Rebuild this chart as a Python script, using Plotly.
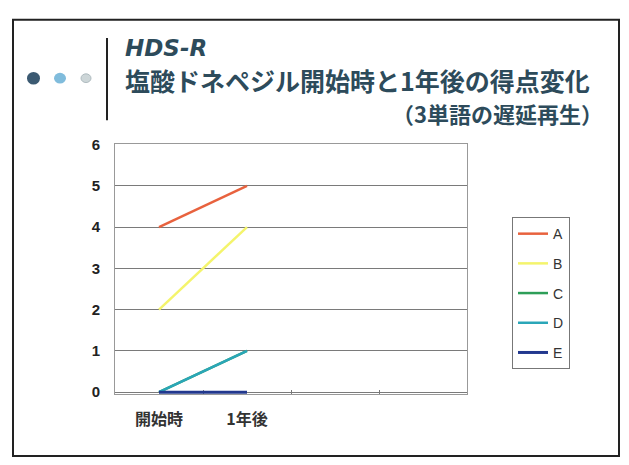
import plotly.graph_objects as go

W, H = 629, 465

categories = ["開始時", "1年後"]
cat_pos = [0, 1]
series_names = ["A", "B", "C", "D", "E"]
series_values = {
    "A": [4, 5],
    "B": [2, 4],
    "C": [0, 1],
    "D": [0, 1],
    "E": [0, 0],
}
series_colors = {
    "A": "#e8623e",
    "B": "#f4f46c",
    "C": "#2e9e58",
    "D": "#2aa6b8",
    "E": "#22388e",
}
series_widths = {"A": 2.5, "B": 2.5, "C": 2.5, "D": 2.5, "E": 3}
y_ticks = [0, 1, 2, 3, 4, 5, 6]

def px(x):
    return x / W

def py(y):
    return 1 - y / H

fig = go.Figure()
for i, name in enumerate(series_names):
    fig.add_trace(go.Scatter(
        x=cat_pos, y=series_values[name], mode="lines", name=name,
        line=dict(color=series_colors[name], width=series_widths[name]),
        legendgroup=name, cliponaxis=False,
    ))

title_color = "#2d4b5b"
jp = "Noto Sans CJK JP"

fig.update_layout(
    width=W, height=H,
    margin=dict(l=0, r=0, t=0, b=0),
    paper_bgcolor="white", plot_bgcolor="white",
    showlegend=True,
    legend=dict(
        x=px(512), y=py(215), xanchor="left", yanchor="top",
        bordercolor="#777", borderwidth=1, bgcolor="white",
        font=dict(family="Liberation Sans", size=14, color="#333"),
        traceorder="grouped", tracegroupgap=8.5, itemwidth=30,
    ),
    xaxis=dict(
        domain=[px(115), px(467)], range=[-0.5, 3.5],
        tickvals=cat_pos, ticktext=categories, ticks="",
        tickfont=dict(family=jp, size=16, color="#333", weight="bold"),
        showgrid=False, zeroline=False, layer="below traces",
        showline=True, linecolor="#999", linewidth=1, mirror=True,
        minor=dict(tickvals=[0.5, 1.5, 2.5], ticks="inside", ticklen=4,
                   tickcolor="#777", showgrid=False),
        ticklabelstandoff=11,
    ),
    yaxis=dict(
        domain=[py(398.1), py(140)], range=[-0.05, 6],
        tickvals=y_ticks, ticks="",
        tickfont=dict(family="Liberation Sans", size=15, color="#222", weight="bold"),
        showgrid=True, gridcolor="#7a7a7a", gridwidth=1, zeroline=False,
        layer="below traces",
        showline=True, linecolor="#999", linewidth=1, mirror=True,
        ticklabelstandoff=11,
    ),
)

shapes = [
    # slide frame
    dict(type="rect", xref="paper", yref="paper",
         x0=px(13), x1=px(619), y0=py(462), y1=py(11),
         line=dict(color="#222", width=2)),
    # vertical title bar
    dict(type="line", xref="paper", yref="paper",
         x0=px(107), x1=px(107), y0=py(30), y1=py(115),
         line=dict(color="#222", width=2)),
    # dots
    dict(type="circle", xref="paper", yref="paper",
         x0=px(27), x1=px(40), y0=py(78), y1=py(65),
         fillcolor="#3b5a72", line=dict(width=0)),
    dict(type="circle", xref="paper", yref="paper",
         x0=px(54), x1=px(66), y0=py(77), y1=py(66),
         fillcolor="#80bcdc", line=dict(width=0)),
    dict(type="circle", xref="paper", yref="paper",
         x0=px(81), x1=px(91), y0=py(76), y1=py(67),
         fillcolor="#cdd6d8", line=dict(color="#b0bcc0", width=1)),
]
fig.update_layout(shapes=shapes)

fig.add_annotation(x=px(124), y=py(40.5), xref="paper", yref="paper",
                   xanchor="left", yanchor="middle", showarrow=False,
                   text="<i>HDS-R</i>", borderpad=0,
                   font=dict(family="DejaVu Sans", size=23, color=title_color, weight="bold"))
fig.add_annotation(x=px(124), y=py(73.5), xref="paper", yref="paper",
                   xanchor="left", yanchor="middle", showarrow=False,
                   text="塩酸ドネペジル開始時と1年後の得点変化", borderpad=0,
                   font=dict(family=jp, size=25, color=title_color, weight="bold"))
fig.add_annotation(x=px(604), y=py(107.5), xref="paper", yref="paper",
                   xanchor="right", yanchor="middle", showarrow=False,
                   text="（3単語の遅延再生）", borderpad=0,
                   font=dict(family=jp, size=22, color=title_color, weight="bold"))

fig.write_html("out.html")
